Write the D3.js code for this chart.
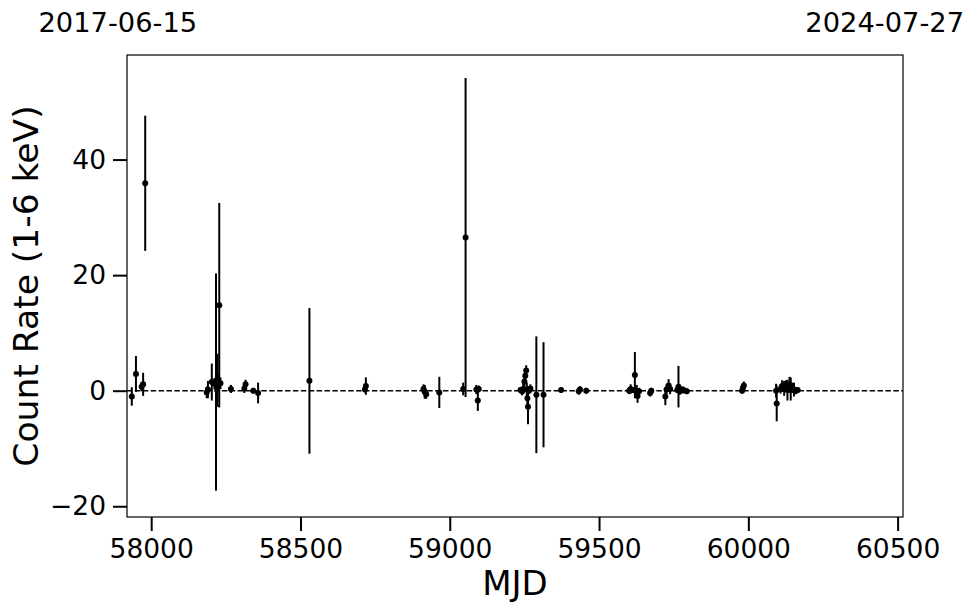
<!DOCTYPE html>
<html>
<head>
<meta charset="utf-8">
<script src="https://cdn.jsdelivr.net/npm/d3@7"></script>
<style>
  html, body { margin: 0; padding: 0; background: #fff; }
  svg text { font-family: "DejaVu Sans", sans-serif; fill: #000; }
</style>
</head>
<body>
<svg id="chart" width="980" height="613"></svg>
<script>
// ---- data ----
const mjd = [
  57935, 57949, 57968, 57973, 57980,
  58186, 58190, 58203, 58212, 58217, 58222, 58224, 58228, 58232,
  58267, 58312, 58316, 58342, 58358, 58530,
  58716, 58719, 58912, 58916, 58921, 58965, 59045, 59053, 59089, 59094, 59097,
  59237, 59242, 59246, 59250, 59253, 59256, 59258, 59260, 59262, 59265, 59270,
  59290, 59314, 59373, 59432, 59436, 59457,
  59601, 59606, 59612, 59620, 59626, 59629, 59634, 59671, 59675,
  59722, 59726, 59733, 59738, 59762, 59766, 59771, 59778, 59783, 59794,
  59979, 59982, 59985,
  60093, 60095, 60108, 60113, 60120, 60126, 60131, 60138, 60142, 60147, 60153, 60160, 60165
];
const rate = [
  -1.0, 2.9, 0.7, 1.1, 35.9,
  -0.3, 0.2, 1.5, 1.2, 1.5, 1.8, 1.4, 14.8, 1.3,
  0.3, 0.4, 1.1, 0.0, -0.4, 1.7,
  0.2, 0.8, 0.3, -0.2, -0.6, -0.3, 0.3, 26.5, 0.2, -1.7, 0.3,
  0.1, -0.1, 0.3, 1.6, 2.6, 3.5, 0.2, -1.3, -2.8, 0.0, 0.4,
  -0.7, -0.7, 0.1, -0.1, 0.2, 0.0,
  0.0, 0.3, 0.1, 2.7, 0.0, -0.9, -0.1, -0.4, 0.0,
  -1.0, 0.2, 0.9, 0.3, 0.1, 0.7, -0.1, 0.2, 0.1, -0.1,
  0.0, 0.5, 0.9,
  0.0, -2.2, 0.3, 0.8, 0.4, 0.9, 0.1, 1.0, 0.3, 0.5, 0.2, 0.0, 0.1
];
const rateErr = [
  1.6, 3.1, 0.8, 2.0, 11.7,
  1.0, 1.5, 3.2, 1.0, 18.8, 4.6, 1.5, 17.7, 1.0,
  0.7, 0.8, 0.8, 0.5, 1.8, 12.6,
  0.5, 1.5, 0.8, 1.2, 0.8, 2.7, 1.1, 27.6, 0.8, 1.8, 0.6,
  0.5, 0.7, 0.9, 0.9, 1.0, 0.9, 1.2, 1.0, 3.0, 0.6, 0.7,
  10.1, 9.1, 0.5, 0.6, 0.6, 0.5,
  0.6, 0.8, 0.5, 4.0, 1.0, 1.2, 0.6, 0.6, 0.5,
  1.5, 0.8, 1.1, 0.9, 0.5, 3.6, 0.6, 0.5, 0.6, 0.5,
  0.5, 0.8, 0.7,
  1.2, 3.1, 0.8, 1.0, 1.3, 0.9, 1.8, 1.4, 2.0, 0.9, 1.2, 0.6, 0.5
];
const xDomain = [57919, 60518];
const yDomain = [-21.86, 58.1];
const xTicks = [58000, 58500, 59000, 59500, 60000, 60500];
const yTicks = [-20, 0, 20, 40];
const startLabel = "2017-06-15";
const endLabel = "2024-07-27";
const xLabel = "MJD";
const yLabel = "Count Rate (1-6 keV)";

// ---- layout ----
const svg = d3.select("#chart");
const m = { left: 127, top: 55, right: 77, bottom: 96 };
const W = 980 - m.left - m.right;
const H = 613 - m.top - m.bottom;

const x = d3.scaleLinear().domain(xDomain).range([0, W]);
const y = d3.scaleLinear().domain(yDomain).range([H, 0]);

const g = svg.append("g").attr("transform", `translate(${m.left},${m.top})`);

const fmtY = d => (d < 0 ? "\u2212" + Math.abs(d) : String(d));

// axes
const xAxis = g.append("g").attr("transform", `translate(0,${H})`)
  .call(d3.axisBottom(x).tickValues(xTicks).tickFormat(d3.format("d")).tickSize(14).tickPadding(8));
const yAxis = g.append("g")
  .call(d3.axisLeft(y).tickValues(yTicks).tickFormat(fmtY).tickSize(14).tickPadding(7));
[xAxis, yAxis].forEach(a => {
  a.select(".domain").remove();
  a.selectAll(".tick line").attr("stroke", "#000").attr("stroke-width", 2);
  a.selectAll(".tick text").attr("font-size", 26.5).attr("fill", "#000")
    .style("font-family", "'DejaVu Sans', sans-serif");
});

// zero line
g.append("line")
  .attr("x1", 0).attr("x2", W)
  .attr("y1", y(0)).attr("y2", y(0))
  .attr("stroke", "#000").attr("stroke-width", 1.5)
  .attr("stroke-dasharray", "5.5,2.4");

// data
const pts = mjd.map((d, i) => ({ t: d, v: rate[i], e: rateErr[i] }));
g.append("clipPath").attr("id", "clip").append("rect")
  .attr("width", W).attr("height", H);
const dg = g.append("g").attr("clip-path", "url(#clip)");
dg.selectAll("line.err").data(pts).enter().append("line")
  .attr("class", "err")
  .attr("x1", d => x(d.t)).attr("x2", d => x(d.t))
  .attr("y1", d => y(d.v - d.e)).attr("y2", d => y(d.v + d.e))
  .attr("stroke", "#000").attr("stroke-width", 2);
dg.selectAll("circle").data(pts).enter().append("circle")
  .attr("cx", d => x(d.t)).attr("cy", d => y(d.v)).attr("r", 3)
  .attr("fill", "#000");

// frame
g.append("rect").attr("width", W).attr("height", H)
  .attr("fill", "none").attr("stroke", "#000").attr("stroke-width", 1.2);

// labels
svg.append("text").attr("x", m.left + W / 2).attr("y", 595)
  .attr("text-anchor", "middle").attr("font-size", 34).text(xLabel);
svg.append("text")
  .attr("transform", `translate(38,${m.top + H / 2}) rotate(-90)`)
  .attr("text-anchor", "middle").attr("font-size", 34.5).text(yLabel);
svg.append("text").attr("x", 38.5).attr("y", 32).attr("font-size", 27.3).text(startLabel);
svg.append("text").attr("x", 964).attr("y", 32).attr("text-anchor", "end").attr("font-size", 27.3).text(endLabel);
</script>
</body>
</html>
